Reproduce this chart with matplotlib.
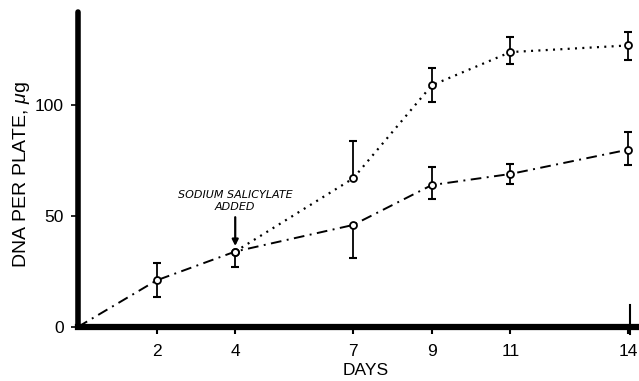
import matplotlib
matplotlib.use("Agg")
import matplotlib.pyplot as plt

plt.rcParams["font.family"] = ["Liberation Sans", "DejaVu Sans"]
plt.rcParams["mathtext.fontset"] = "custom"
plt.rcParams["mathtext.rm"] = "Liberation Sans"
plt.rcParams["mathtext.it"] = "Liberation Sans:italic"

# control (no drug) series, starts at origin
ctrl_days = [0, 2, 4, 7, 9, 11, 14]
ctrl_vals = [0, 21, 34, 46, 64, 69, 80]
ctrl_lo = [0, 7.5, 7, 15, 6.5, 4.5, 7]
ctrl_hi = [0, 8, 0, 0, 8, 4.5, 8]

# sodium salicylate added on day 4
sal_days = [4, 7, 9, 11, 14]
sal_vals = [34, 67, 109, 124, 127]
sal_lo = [0, 0, 7.5, 5.5, 6.5]
sal_hi = [0, 17, 8, 7, 6]

xticks = [2, 4, 7, 9, 11, 14]
yticks = [0, 50, 100]

fig = plt.figure(figsize=(6.39, 3.81), dpi=100)
ax = fig.add_axes([0.122, 0.142, 0.878, 0.826])

narrow = "Liberation Sans Narrow"


def draw_err(days, vals, lo, hi):
    for d, v, l, h in zip(days, vals, lo, hi):
        if l > 0:
            ax.plot([d, d], [v, v - l], color="black", lw=1.3, zorder=2)
            ax.plot(d, v - l, marker="_", ms=6, mew=1.5, color="black", zorder=2)
        if h > 0:
            ax.plot([d, d], [v, v + h], color="black", lw=1.3, zorder=2)
            ax.plot(d, v + h, marker="_", ms=6, mew=1.5, color="black", zorder=2)


# lines
ax.plot(ctrl_days, ctrl_vals, color="black", lw=1.4,
        linestyle=(0, (5.5, 2.8, 1, 2.8)), zorder=1)
ax.plot(sal_days, sal_vals, color="black", lw=1.6,
        linestyle=(0, (0.9, 2.4)), zorder=1)

draw_err(ctrl_days[1:], ctrl_vals[1:], ctrl_lo[1:], ctrl_hi[1:])
draw_err(sal_days, sal_vals, sal_lo, sal_hi)

# open circle markers
ax.plot(ctrl_days[1:], ctrl_vals[1:], linestyle="none", marker="o", ms=5,
        mfc="white", mec="black", mew=1.3, zorder=3)
ax.plot(sal_days, sal_vals, linestyle="none", marker="o", ms=5,
        mfc="white", mec="black", mew=1.3, zorder=3)

# annotation
ax.annotate("", xy=(4, 36.5), xytext=(4, 49.5),
            arrowprops=dict(arrowstyle="-|>", color="black", lw=1.6,
                            mutation_scale=9, shrinkA=0, shrinkB=0))
ax.text(4, 52, "SODIUM SALICYLATE\nADDED", ha="center", va="bottom",
        fontsize=8, style="italic", family=narrow, linespacing=1.15)

# small vertical mark at right end of axis
ax.plot([14.05, 14.05], [-3, 10], color="black", lw=1.5, clip_on=False)

ax.set_xlim(0, 14.27)
ax.set_ylim(0, 142)
ax.set_xticks(xticks)
ax.set_yticks(yticks)
ax.set_xticklabels([str(t) for t in xticks], fontsize=12.5)
ax.set_yticklabels([str(t) for t in yticks], fontsize=12.5)
ax.tick_params(axis="x", direction="out", length=5, width=1.5, pad=7)
ax.tick_params(axis="y", direction="out", length=5, width=1.2, pad=5)

for s in ["top", "right"]:
    ax.spines[s].set_visible(False)
ax.spines["left"].set_linewidth(4)
ax.spines["bottom"].set_linewidth(4.5)
ax.spines["left"].set_capstyle("round")

ax.set_xlabel("DAYS", fontsize=12.5)
ax.xaxis.set_label_coords(0.512, -0.115)
ax.set_ylabel(r"DNA PER PLATE, $\mu$g", fontsize=14)
ax.yaxis.set_label_coords(-0.082, 0.483)

fig.savefig("out.png", dpi=100)
